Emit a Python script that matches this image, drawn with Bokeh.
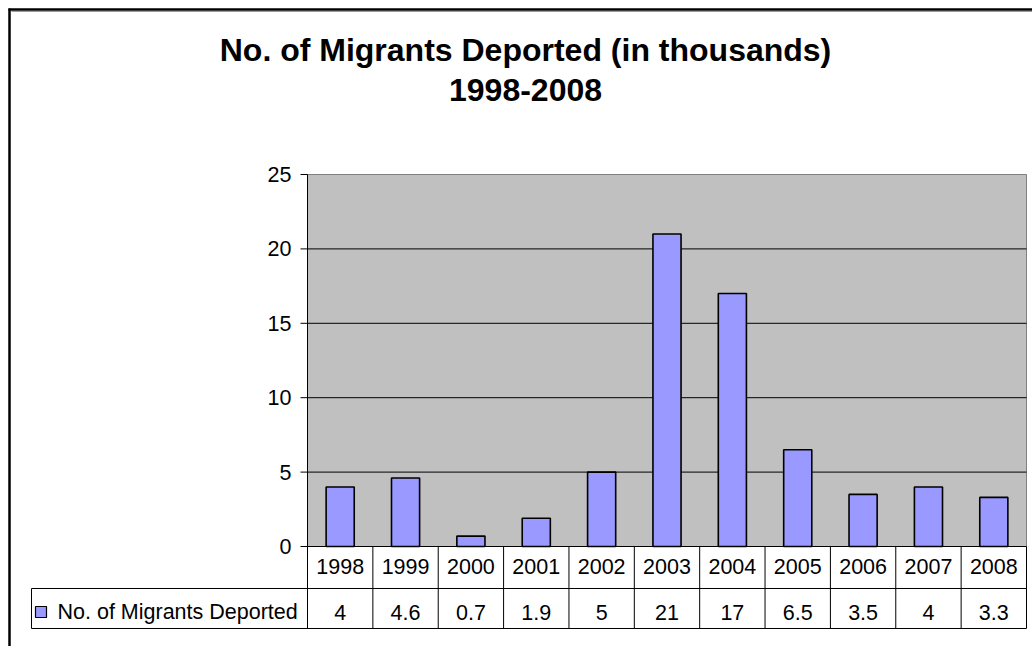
from bokeh.plotting import figure
from bokeh.models import Range1d
from bokeh.embed import file_html
from bokeh.resources import INLINE
from bokeh.core.properties import value

# ---------------- data ----------------
years = ["1998", "1999", "2000", "2001", "2002", "2003", "2004", "2005", "2006", "2007", "2008"]
deported = [4, 4.6, 0.7, 1.9, 5, 21, 17, 6.5, 3.5, 4, 3.3]
value_labels = ["4", "4.6", "0.7", "1.9", "5", "21", "17", "6.5", "3.5", "4", "3.3"]
y_ticks = [0, 5, 10, 15, 20, 25]
series_name = "No. of Migrants Deported"
title_lines = ["No. of Migrants Deported (in thousands)", "1998-2008"]

# ---------------- layout (page pixels) ----------------
W, H = 1032, 646
PLOT_L, PLOT_R, PLOT_T, PLOT_B = 307, 1026, 174, 546
TABLE_L, ROW1_B, ROW2_B = 31, 588, 628
n = len(years)
ymax = y_ticks[-1]
KX = (PLOT_R - PLOT_L) / n
KY = (PLOT_B - PLOT_T) / ymax


def xd(px):
    return (px - PLOT_L) / KX


def yd(py):
    return (PLOT_B - py) / KY


FONT = value("Liberation Sans")
FS = "21.5px"

p = figure(width=W, height=H, output_backend="svg", toolbar_location=None,
           x_range=Range1d(xd(0), xd(W)), y_range=Range1d(yd(H), yd(0)),
           x_axis_type=None, y_axis_type=None, min_border=0,
           background_fill_color="white", border_fill_color="white")
p.outline_line_color = None
p.xgrid.visible = False
p.ygrid.visible = False

# outer chart border (left and top visible)
p.segment(x0=[xd(9), xd(8)], y0=[yd(8), yd(9)], x1=[xd(9), xd(W)], y1=[yd(H), yd(9)],
          line_color="black", line_width=2.5)
p.segment(x0=[xd(11)], y0=[yd(11)], x1=[xd(W)], y1=[yd(11)], line_color="#9a9a9a", line_width=1)

# title
for i, line in enumerate(title_lines):
    p.text(x=[xd(525)], y=[yd(49 + 40.5 * i)], text=[line], text_align="center",
           text_baseline="middle", text_font=FONT, text_font_size="32px",
           text_font_style="bold", text_color="black")

# plot area
p.quad(left=[0], right=[n], bottom=[0], top=[ymax], fill_color="#C0C0C0",
       line_color="#808080", line_width=1)

# gridlines
inner = y_ticks[1:-1]
p.segment(x0=[0] * len(inner), x1=[n] * len(inner), y0=inner, y1=inner,
          line_color="black", line_width=1)

# bars
xs = [i + 0.5 for i in range(n)]
p.vbar(x=xs, top=deported, bottom=0, width=0.43, fill_color="#9999FF",
       line_color="black", line_width=1.6)

# y axis
p.segment(x0=[0], x1=[0], y0=[0], y1=[ymax], line_color="black", line_width=1)
p.segment(x0=[xd(300)] * len(y_ticks), x1=[0] * len(y_ticks), y0=y_ticks, y1=y_ticks,
          line_color="black", line_width=1)
p.text(x=[xd(291)] * len(y_ticks), y=y_ticks, text=[str(t) for t in y_ticks],
       text_align="right", text_baseline="middle", text_font=FONT,
       text_font_size=FS, text_color="black")

# data table
h_x0 = [0, xd(TABLE_L), xd(TABLE_L)]
h_y = [0, yd(ROW1_B), yd(ROW2_B)]
p.segment(x0=h_x0, x1=[n] * 3, y0=h_y, y1=h_y, line_color="black", line_width=1)
vx = list(range(n + 1)) + [xd(TABLE_L)]
vy0 = [0] * (n + 1) + [yd(ROW1_B)]
p.segment(x0=vx, x1=vx, y0=vy0, y1=[yd(ROW2_B)] * (n + 2), line_color="black", line_width=1)

p.text(x=xs, y=[yd(566)] * n, text=years, text_align="center", text_baseline="middle",
       text_font=FONT, text_font_size=FS, text_color="black")
p.text(x=xs, y=[yd(611.5)] * n, text=value_labels, text_align="center", text_baseline="middle",
       text_font=FONT, text_font_size=FS, text_color="black")

# legend key in table
p.quad(left=[xd(35)], right=[xd(46)], top=[yd(606)], bottom=[yd(617)],
       fill_color="#9999FF", line_color="black", line_width=1.2)
p.text(x=[xd(57)], y=[yd(611.5)], text=[series_name], text_align="left", text_baseline="middle",
       text_font=FONT, text_font_size=FS, text_color="black")

open("out.html", "w").write(file_html(p, INLINE))
